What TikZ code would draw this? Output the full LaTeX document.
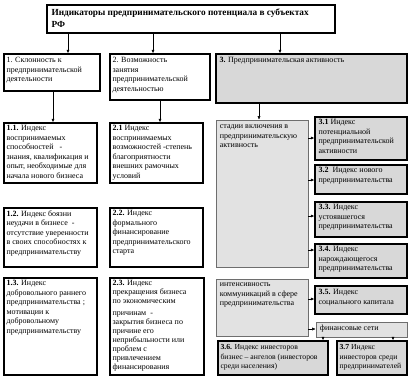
\documentclass[tikz,border=0pt]{standalone}
\usepackage{fontspec}
\setmainfont{Liberation Serif}
\usetikzlibrary{arrows.meta,fit}
\definecolor{boxgray}{RGB}{216,216,216}
\definecolor{lightgray}{RGB}{226,226,226}
\definecolor{edgegray}{RGB}{110,110,110}
\begin{document}
\begin{tikzpicture}[x=1pt,y=-1pt,
  frame/.style={inner sep=0pt, draw=black, line width=1.3pt, fill=white},
  grayframe/.style={inner sep=0pt, draw=black, line width=1.3pt, fill=boxgray},
  softframe/.style={inner sep=0pt, draw=edgegray, line width=0.6pt, fill=lightgray},
  txt/.style={anchor=north west, align=left, inner sep=0pt, font=\fontsize{8}{9.5}\selectfont},
  arr/.style={-{Latex[length=3.5pt,width=3pt]}, line width=0.5pt}]
\useasboundingbox (0,0) rectangle (420,378);
% boxes
\node[frame, fit={(47,5) (335,33)}] (T) {};
\node[frame, fit={(4,54) (100,91)}] (b1) {};
\node[frame, fit={(110,54) (210,100)}] (b2) {};
\node[grayframe, fit={(216,54) (407,103)}] (b3) {};
\node[frame, fit={(4,123) (97,183)}] (b11) {};
\node[frame, fit={(110,123) (203,183)}] (b21) {};
\node[frame, fit={(4,208) (97,267)}] (b12) {};
\node[frame, fit={(110,208) (203,267)}] (b22) {};
\node[frame, fit={(4,278) (97,375)}] (b13) {};
\node[frame, fit={(110,278) (204,375)}] (b23) {};
\node[softframe, fit={(216,120) (308,267)}] (s1) {};
\node[grayframe, fit={(315,117) (407,160)}] (b31) {};
\node[grayframe, fit={(315,165) (407,194)}] (b32) {};
\node[grayframe, fit={(315,202) (407,237)}] (b33) {};
\node[grayframe, fit={(315,244) (407,278)}] (b34) {};
\node[softframe, fit={(216,279) (308,336)}] (s2) {};
\node[grayframe, fit={(315,286) (407,314)}] (b35) {};
\node[softframe, fit={(316,322) (407,337)}] (fin) {};
\node[grayframe, fit={(218,341) (328,375)}] (b36) {};
\node[grayframe, fit={(337,341) (407,375)}] (b37) {};
% texts
\node[txt, font=\fontsize{9.3}{12}\selectfont\bfseries] (tT) at ([shift={(5,4)}]T.north west)
  {Индикаторы предпринимательского потенциала в субъектах\\РФ};
\node[txt] (t1) at ([shift={(3,4)}]b1.north west) {1. Склонность к\\предпринимательской\\деятельности};
\node[txt] (t2) at ([shift={(3,4)}]b2.north west) {2. Возможность\\занятия\\предпринимательской\\деятельностью};
\node[txt] (t3) at ([shift={(4,4)}]b3.north west) {\textbf{3.} Предпринимательская активность};
\node[txt] (t11) at ([shift={(3,3)}]b11.north west) {\textbf{1.1.} Индекс\\воспринимаемых\\способностей \ \ -\\знания, квалификация и\\опыт, необходимые для\\начала нового бизнеса};
\node[txt] (t21) at ([shift={(3,3)}]b21.north west) {\textbf{2.1} Индекс\\воспринимаемых\\возможностей -степень\\благоприятности\\внешних рамочных\\условий};
\node[txt] (t12) at ([shift={(3,3)}]b12.north west) {\textbf{1.2.} Индекс боязни\\неудачи в бизнесе \ -\\отсутствие уверенности\\в своих способностях к\\предпринимательству};
\node[txt] (t22) at ([shift={(3,3)}]b22.north west) {\textbf{2.2.} Индекс\\формального\\финансирование\\предпринимательского\\старта};
\node[txt] (t13) at ([shift={(3,3)}]b13.north west) {\textbf{1.3.} Индекс\\добровольного раннего\\предпринимательства ;\\мотивации к\\добровольному\\предпринимательству};
\node[txt, font=\fontsize{8}{9}\selectfont] (t23) at ([shift={(3,3)}]b23.north west) {\textbf{2.3.} Индекс\\прекращения бизнеса\\по экономическим\\[3pt]причинам \ -\\закрытия бизнеса по\\причине его\\неприбыльности или\\проблем с\\привлечением\\финансирования};
\node[txt] (ts1) at ([shift={(4,5)}]s1.north west) {стадии включения в\\предпринимательскую\\активность};
\node[txt] (t31) at ([shift={(4,3)}]b31.north west) {\textbf{3.1} Индекс\\потенциальной\\предпринимательской\\активности};
\node[txt] (t32) at ([shift={(4,3)}]b32.north west) {\textbf{3.2} \ Индекс нового\\предпринимательства};
\node[txt] (t33) at ([shift={(4,3)}]b33.north west) {\textbf{3.3.} Индекс\\устоявшегося\\предпринимательства};
\node[txt] (t34) at ([shift={(4,3)}]b34.north west) {\textbf{3.4.} Индекс\\нарождающегося\\предпринимательства};
\node[txt] (ts2) at ([shift={(4,4)}]s2.north west) {интенсивность\\коммуникаций в сфере\\предпринимательства};
\node[txt] (t35) at ([shift={(4,4)}]b35.north west) {\textbf{3.5.} Индекс\\социального капитала};
\node[txt] (tfin) at ([shift={(4,3)}]fin.north west) {финансовые сети};
\node[txt, font=\fontsize{7.7}{9.5}\selectfont] (t36) at ([shift={(3,4)}]b36.north west) {\textbf{3.6.} Индекс инвесторов\\бизнес – ангелов (инвесторов\\среди населения)};
\node[txt, font=\fontsize{7.7}{9.5}\selectfont] (t37) at ([shift={(3,4)}]b37.north west) {\textbf{3.7} Индекс\\инвесторов среди\\предпринимателей};
% connector x / y positions
\coordinate (x1) at (68,0);
\coordinate (x2) at (153,0);
\coordinate (x3) at (280,0);
\coordinate (x4) at (53,0);
\coordinate (x5) at (160,0);
\coordinate (x6) at (259,0);
\coordinate (y31) at (0,138);
\coordinate (y32) at (0,180);
\coordinate (y33) at (0,216);
\coordinate (y34) at (0,250);
\coordinate (y35) at (0,299);
\coordinate (yfin) at (0,329);
\coordinate (x36) at (323,0);
\coordinate (x37) at (393,0);
% connectors
\draw[arr] (T.south -| x1) -- (b1.north -| x1);
\draw[arr] (T.south -| x2) -- (b2.north -| x2);
\draw[arr] (T.south -| x3) -- (b3.north -| x3);
\draw[arr] (b1.south -| x4) -- (b11.north -| x4);
\draw[arr] (b2.south -| x5) -- (b21.north -| x5);
\draw[arr] (b3.south -| x6) -- (s1.north -| x6);
\draw[arr] (s1.east |- y31) -- (b31.west |- y31);
\draw[arr] (s1.east |- y32) -- (b32.west |- y32);
\draw[arr] (s1.east |- y33) -- (b33.west |- y33);
\draw[arr] (s1.east |- y34) -- (b34.west |- y34);
\draw[arr] (s2.east |- y35) -- (b35.west |- y35);
\draw[arr] (s2.east |- yfin) -- (fin.west |- yfin);
\draw[arr] (fin.south -| x36) -- (b36.north -| x36);
\draw[arr] (fin.south -| x37) -- (b37.north -| x37);
\end{tikzpicture}
\end{document}
